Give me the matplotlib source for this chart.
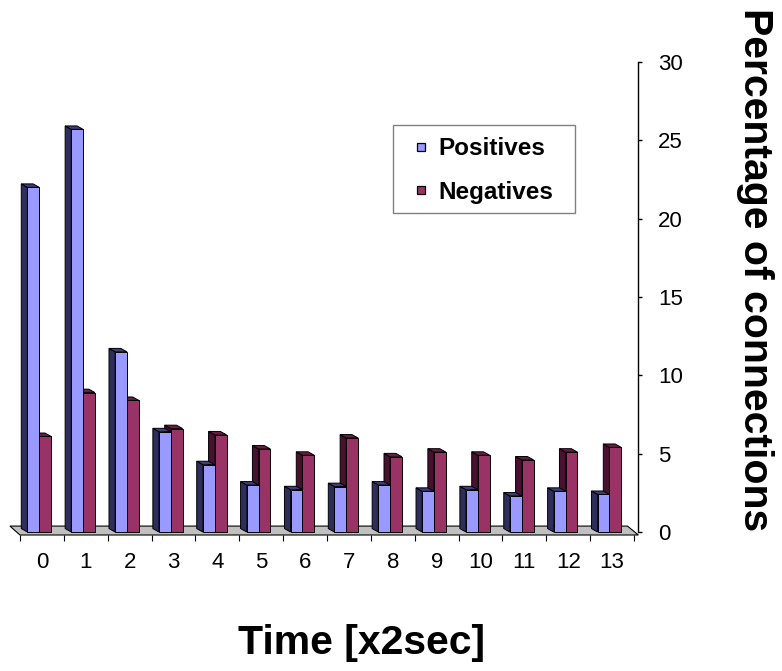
import matplotlib
matplotlib.use("Agg")
import matplotlib.pyplot as plt
from matplotlib.patches import Polygon, Rectangle
from matplotlib.lines import Line2D

# ---- data ----
categories = [str(i) for i in range(14)]
positives = [22.0, 25.7, 11.5, 6.4, 4.3, 3.0, 2.7, 2.9, 3.0, 2.6, 2.7, 2.3, 2.6, 2.4]
negatives = [6.1, 8.9, 8.4, 6.6, 6.2, 5.3, 4.9, 6.0, 4.8, 5.1, 4.9, 4.6, 5.1, 5.4]
y_ticks = [0, 5, 10, 15, 20, 25, 30]
series_names = ["Positives", "Negatives"]

plt.rcParams['font.family'] = ['Liberation Sans', 'DejaVu Sans']

W, H = 782, 671
fig = plt.figure(figsize=(W / 100, H / 100), dpi=100)
ax = fig.add_axes([9 / W, (H - 535) / H, (638.4 - 9) / W, 473 / H])

x_idx = list(range(len(categories)))
ax.set_xlim(-0.75, 13.6)
ax.set_ylim(-0.19, 30)

# 3D styling
DX, DY = -0.14, 0.22
bw = 0.27
pos_cols = ('#9999FF', '#2E2E5C', '#3D3D7A')
neg_cols = ('#993366', '#4A1030', '#6B1C45')

# floor
floor = Polygon([(-0.5, -0.19), (13.6, -0.19), (13.35, 0.38), (-0.73, 0.38)],
                closed=True, facecolor='#C0C0C0', edgecolor='black', lw=0.8,
                zorder=1, clip_on=False)
ax.add_patch(floor)


def draw3d(xs, vals, cols, z):
    bars = ax.bar(xs, vals, width=bw, align='edge', color=cols[0],
                  edgecolor='black', linewidth=0.7, zorder=z + 0.2)
    for b in bars:
        x0, w, h = b.get_x(), b.get_width(), b.get_height()
        side = Polygon([(x0, 0), (x0, h), (x0 + DX, h + DY), (x0 + DX, DY)],
                       closed=True, facecolor=cols[1], edgecolor='black',
                       lw=0.7, zorder=z)
        top = Polygon([(x0, h), (x0 + w, h), (x0 + w + DX, h + DY), (x0 + DX, h + DY)],
                      closed=True, facecolor=cols[2], edgecolor='black',
                      lw=0.7, zorder=z + 0.1)
        ax.add_patch(side)
        ax.add_patch(top)
    return bars


draw3d([i - 0.06 for i in x_idx], negatives, neg_cols, 2)
draw3d([i - 0.33 for i in x_idx], positives, pos_cols, 3)

# axes styling
for s in ('left', 'top', 'bottom'):
    ax.spines[s].set_visible(False)
ax.spines['right'].set_bounds(0, 30)
ax.spines['right'].set_linewidth(1.0)
ax.yaxis.tick_right()
ax.set_yticks(y_ticks)
ax.set_yticklabels([str(v) for v in y_ticks])
ax.tick_params(axis='y', direction='out', length=3, width=1, pad=11,
               labelsize=16)

ax.set_xticks(x_idx)
ax.set_xticklabels(categories)
ax.set_xticks([i - 0.5 for i in range(len(categories) + 1)], minor=True)
ax.tick_params(axis='x', which='major', length=0, pad=12.5, labelsize=16)
ax.tick_params(axis='x', which='minor', direction='out', length=4.3, width=0.8)

# labels
fig.text(362 / W, 1 - 643 / H, "Time [x2sec]", ha='center', va='center',
         fontsize=29.5, fontweight='bold')
fig.text(755 / W, 1 - 270 / H, "Percentage of connections", ha='center',
         va='center', rotation=270, fontsize=29.5, fontweight='bold')

# legend
frame = Rectangle((393 / W, 1 - 213 / H), 182 / W, 88 / H,
                  transform=fig.transFigure, facecolor='white',
                  edgecolor='#808080', lw=1.0, zorder=5)
fig.patches.append(frame)
handles = [Line2D([], [], linestyle='none', marker='s', markersize=5.4,
                  markerfacecolor=c, markeredgecolor='black',
                  markeredgewidth=0.9)
           for c in (pos_cols[0], neg_cols[0])]
leg = fig.legend(handles, series_names, loc='upper left',
                 bbox_to_anchor=(393 / W, 1 - 125 / H),
                 prop={'size': 17.5, 'weight': 'bold'},
                 handlelength=1.3, handletextpad=0.05, labelspacing=0.85,
                 borderpad=0.5, borderaxespad=0, frameon=False)
leg.set_zorder(6)

fig.savefig("out.png", dpi=100)
